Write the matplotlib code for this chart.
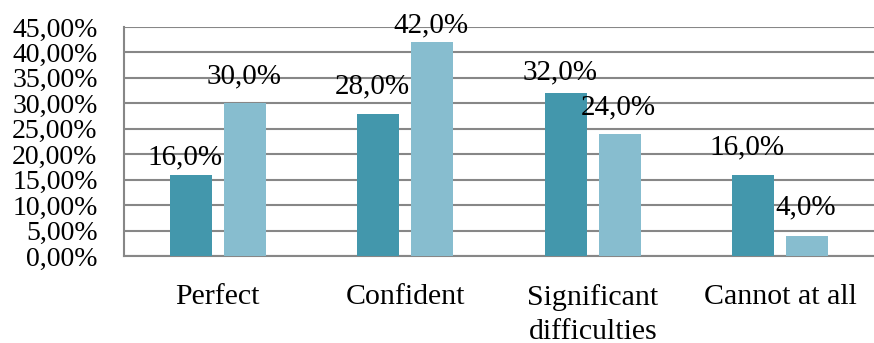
import matplotlib
matplotlib.use("Agg")
import matplotlib.pyplot as plt
import numpy as np
from matplotlib.ticker import FuncFormatter, MultipleLocator

categories = ["Perfect", "Confident", "Significant\ndifficulties", "Cannot at all"]
series_a = [16.0, 28.0, 32.0, 16.0]
series_b = [30.0, 42.0, 24.0, 4.0]

# label offsets in pixels (dy above bar top to label center)
label_dy_a = [17, 27, 21, 27]
label_dy_b = [27, 17, 26, 28]

color_a = "#4397AC"
color_b = "#87BDCF"
serif = ["Liberation Serif", "DejaVu Serif"]

fig = plt.figure(figsize=(8.74, 3.43), dpi=100)
ax = fig.add_axes([124 / 874, 1 - 256 / 343, 1 - 124 / 874, (256 - 27) / 343])

x = np.arange(len(categories))
w = 0.224
off = 0.143
bars_a = ax.bar(x - off, np.array(series_a) / 100, w, color=color_a, zorder=3)
bars_b = ax.bar(x + off, np.array(series_b) / 100, w, color=color_b, zorder=3)

px = 72 / 100
for bars, vals, dys, dx in [(bars_a, series_a, label_dy_a, -6), (bars_b, series_b, label_dy_b, -1)]:
    for b, v, dy in zip(bars, vals, dys):
        ax.annotate(f"{v:.1f}%".replace(".", ","),
                    (b.get_x() + b.get_width() / 2, b.get_height()),
                    xytext=(dx * px, dy * px), textcoords="offset points",
                    ha="center", va="center", fontsize=21, family=serif,
                    color="black", zorder=4)

ax.set_xlim(-0.5, 3.5)
ax.set_ylim(0, 0.45)
ax.yaxis.set_major_locator(MultipleLocator(0.05))
ax.yaxis.set_major_formatter(FuncFormatter(lambda v, p: f"{v*100:.2f}%".replace(".", ",")))
ax.grid(axis="y", color="#878787", linewidth=1.5, zorder=0)
ax.set_axisbelow(True)

ax.set_xticks(x)
ax.set_xticklabels(categories, fontsize=21.5, family=serif, linespacing=1.4)
for lab in ax.get_yticklabels():
    lab.set_fontsize(20)
    lab.set_family(serif)
ax.tick_params(axis="x", length=0, pad=20)
ax.tick_params(axis="y", length=0, pad=19)

for s in ["top", "right"]:
    ax.spines[s].set_visible(False)
for s in ["left", "bottom"]:
    ax.spines[s].set_color("#878787")
    ax.spines[s].set_linewidth(1.5)

fig.savefig("out.png", dpi=100)
